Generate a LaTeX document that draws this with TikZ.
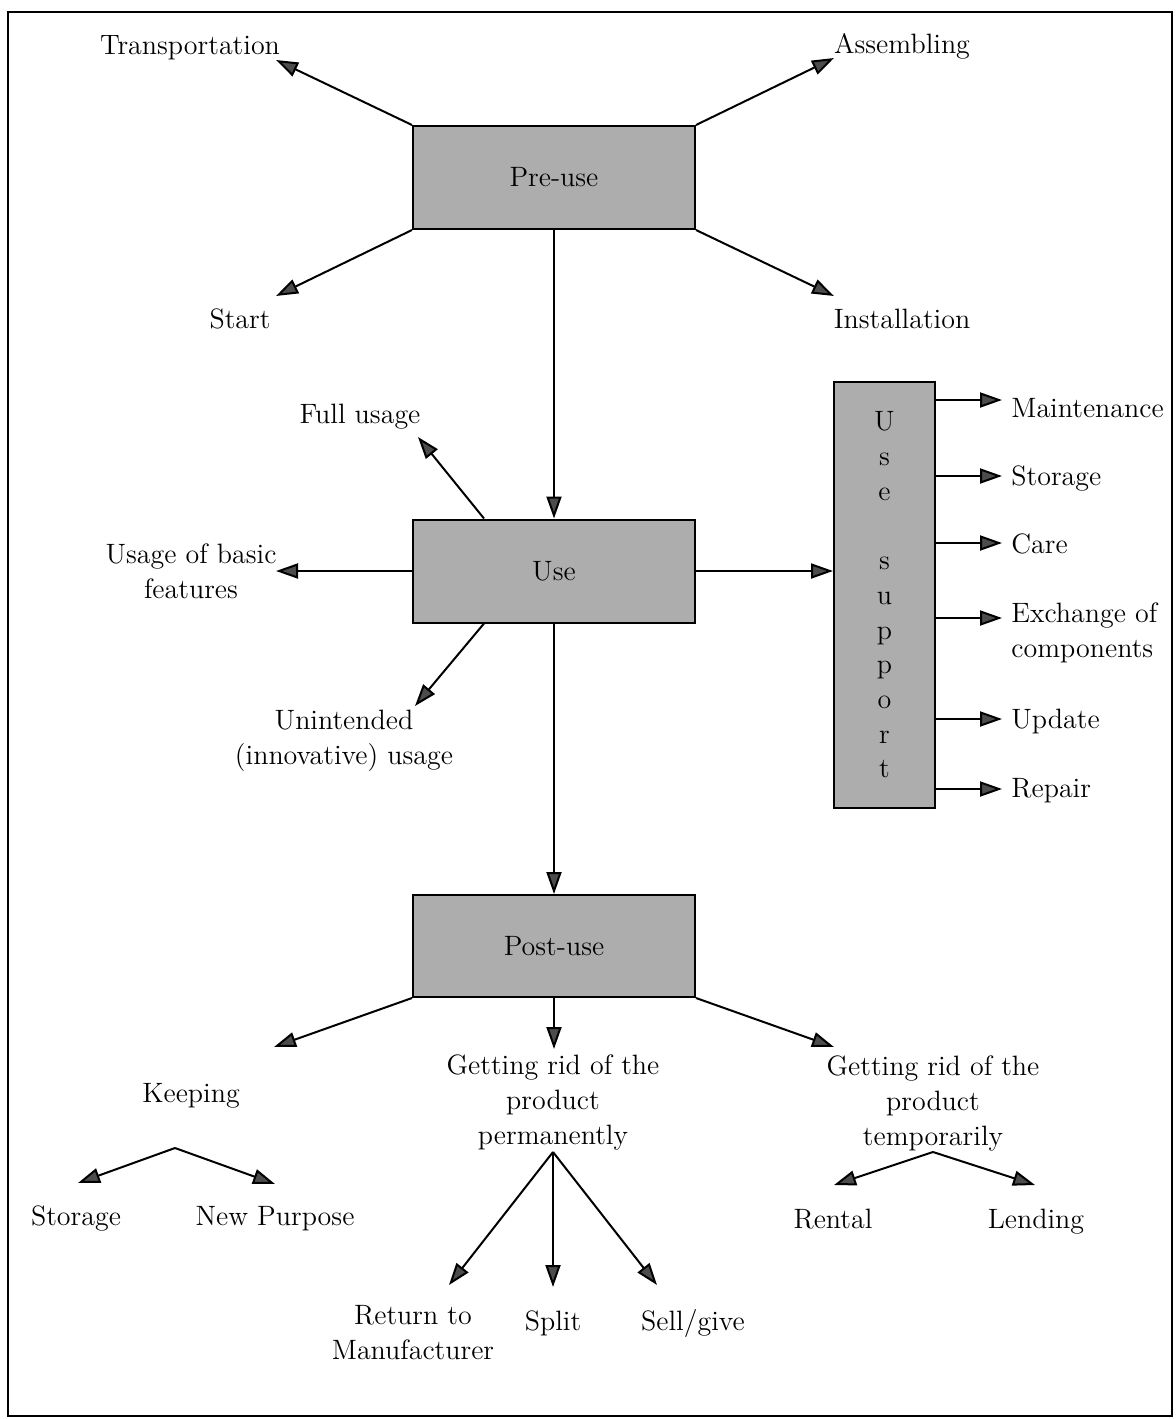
\documentclass[tikz,border=0pt]{standalone}
\usetikzlibrary{arrows.meta}
\definecolor{boxgray}{gray}{0.68}
\definecolor{tipgray}{gray}{0.3}
\begin{document}
\begin{tikzpicture}[x=0.5pt,y=-0.5pt,
  box/.style={draw, line width=1pt, fill=boxgray, inner sep=0, font=\fontsize{14}{17.5}\selectfont},
  lbl/.style={inner sep=0, align=center, font=\fontsize{14}{17.5}\selectfont},
  arr/.style={line width=1pt, -{Triangle[length=11pt,width=7.5pt,fill=tipgray]}}]
\useasboundingbox (0,0) rectangle (1176,1419);
\draw[line width=1pt] (8,12) rectangle (1172,1416);

% boxes
\node[box, minimum width=141pt, minimum height=51.5pt] (pre) at (554,177.5) {Pre-use};
\node[box, minimum width=141pt, minimum height=51.5pt] (use) at (554,571) {Use};
\node[box, minimum width=141pt, minimum height=51pt] (post) at (554,946) {Post-use};
\node[box, minimum width=50.5pt, minimum height=213pt, align=center, font=\fontsize{14}{17.35}\selectfont] (us) at (884.5,595)
  {U\\s\\e\\[17.35pt]s\\u\\p\\p\\o\\r\\t};

% labels
\node[lbl, anchor=base] (trans) at (190,54) {Transportation};
\node[lbl, anchor=base] (assem) at (902,53) {Assembling};
\node[lbl, anchor=base] (start) at (240,328) {Start};
\node[lbl, anchor=base] (inst) at (902,328) {Installation};
\node[lbl, anchor=base] (full) at (360,423) {Full usage};
\node[lbl] (basic) at (191,571) {Usage of basic\\features};
\node[lbl] (unint) at (344,741) {Unintended\\(innovative) usage};
\node[lbl, anchor=base west] (mnt) at (1011,417) {Maintenance};
\node[lbl, anchor=base west] (sto) at (1011,485) {Storage};
\node[lbl, anchor=base west] (care) at (1011,553) {Care};
\node[lbl, anchor=west, align=left] (exch) at (1011,633) {Exchange of\\components};
\node[lbl, anchor=base west] (upd) at (1011,728) {Update};
\node[lbl, anchor=base west] (rep) at (1011,797) {Repair};
\node[lbl, anchor=base] (keep) at (191,1102) {Keeping};
\node[lbl] (perm) at (553,1102) {Getting rid of the\\product\\permanently};
\node[lbl] (temp) at (933,1103) {Getting rid of the\\product\\temporarily};
\node[lbl, anchor=base] (sto2) at (76,1225) {Storage};
\node[lbl, anchor=base] (newp) at (275,1225) {New Purpose};
\node[lbl, anchor=base] (rent) at (833,1228) {Rental};
\node[lbl, anchor=base] (lend) at (1036,1228) {Lending};
\node[lbl] (ret) at (413,1333) {Return to\\Manufacturer};
\node[lbl, anchor=base] (split) at (553,1330) {Split};
\node[lbl, anchor=base] (sell) at (693,1330) {Sell/give};

% arrow tips
\coordinate (tTrans) at (276,60);
\coordinate (tAssem) at (834,58);
\coordinate (tStart) at (276,296);
\coordinate (tInst) at (834,296);
\coordinate (tFull) at (418,437);
\coordinate (tBasic) at (276,571);
\coordinate (tUnint) at (415,706);
\coordinate (tMnt) at (1002,400);
\coordinate (tSto) at (1002,476);
\coordinate (tCare) at (1002,543);
\coordinate (tExch) at (1002,618);
\coordinate (tUpd) at (1002,719);
\coordinate (tRep) at (1002,789);
\coordinate (tKeep) at (274,1047);
\coordinate (tPerm) at (554,1049);
\coordinate (tTemp) at (834,1047);
\coordinate (fKeep) at (175,1148);
\coordinate (fPerm) at (553,1152);
\coordinate (fTemp) at (933,1152);
\coordinate (tSto2) at (78,1183);
\coordinate (tNewp) at (275,1184);
\coordinate (tRent) at (834,1185);
\coordinate (tLend) at (1035,1185);
\coordinate (tRet) at (449,1285);
\coordinate (tSplit) at (553,1287);
\coordinate (tSell) at (657,1285);

% connectors
\draw[arr] (pre.north west) -- (tTrans);
\draw[arr] (pre.north east) -- (tAssem);
\draw[arr] (pre.south west) -- (tStart);
\draw[arr] (pre.south east) -- (tInst);
\draw[arr] (pre.south) -- (use.north);
\draw[arr] ([xshift=36pt]use.north west) -- (tFull);
\draw[arr] (use.west) -- (tBasic);
\draw[arr] ([xshift=36pt]use.south west) -- (tUnint);
\draw[arr] (use.east) -- (us.west |- use.east);
\draw[arr] (use.south) -- (post.north);
\foreach \t in {tMnt,tSto,tCare,tExch,tUpd,tRep}
  \draw[arr] (us.east |- \t) -- (\t);
\draw[arr] (post.south west) -- (tKeep);
\draw[arr] (post.south) -- (tPerm);
\draw[arr] (post.south east) -- (tTemp);
\draw[arr] (fKeep) -- (tSto2);
\draw[arr] (fKeep) -- (tNewp);
\draw[arr] (fTemp) -- (tRent);
\draw[arr] (fTemp) -- (tLend);
\draw[arr] (fPerm) -- (tRet);
\draw[arr] (fPerm) -- (tSplit);
\draw[arr] (fPerm) -- (tSell);
\end{tikzpicture}
\end{document}
